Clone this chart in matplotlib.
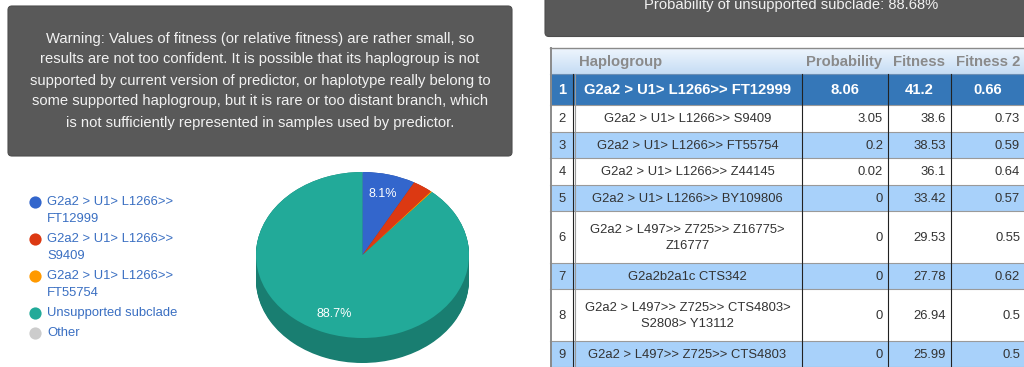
import textwrap
import numpy as np
import matplotlib
matplotlib.use("Agg")
import matplotlib.pyplot as plt
from matplotlib.patches import FancyBboxPatch, Rectangle
from matplotlib.colors import to_rgb

# ---------------- data ----------------
warning_lines = [
    "Warning: Values of fitness (or relative fitness) are rather small, so",
    "results are not too confident. It is possible that its haplogroup is not",
    "supported by current version of predictor, or haplotype really belong to",
    "some supported haplogroup, but it is rare or too distant branch, which",
    "is not sufficiently represented in samples used by predictor.",
]
unsupported_prob = 88.68

pie_labels = ["G2a2 > U1> L1266>> FT12999", "G2a2 > U1> L1266>> S9409",
              "G2a2 > U1> L1266>> FT55754", "Unsupported subclade", "Other"]
pie_values = [8.06, 3.05, 0.2, 88.68, 0.01]
pie_colors = ["#3366cc", "#dc3912", "#ff9900", "#22aa99", "#cccccc"]

headers = ["", "Haplogroup", "Probability", "Fitness", "Fitness 2"]
row_numbers = [1, 2, 3, 4, 5, 6, 7, 8, 9]
haplogroups = [
    "G2a2 > U1> L1266>> FT12999",
    "G2a2 > U1> L1266>> S9409",
    "G2a2 > U1> L1266>> FT55754",
    "G2a2 > U1> L1266>> Z44145",
    "G2a2 > U1> L1266>> BY109806",
    "G2a2 > L497>> Z725>> Z16775> Z16777",
    "G2a2b2a1c CTS342",
    "G2a2 > L497>> Z725>> CTS4803> S2808> Y13112",
    "G2a2 > L497>> Z725>> CTS4803",
]
probability = ["8.06", "3.05", "0.2", "0.02", "0", "0", "0", "0", "0"]
fitness = ["41.2", "38.6", "38.53", "36.1", "33.42", "29.53", "27.78", "26.94", "25.99"]
fitness2 = ["0.66", "0.73", "0.59", "0.64", "0.57", "0.55", "0.62", "0.5", "0.5"]

# ---------------- figure ----------------
W, H = 1024, 367
plt.rcParams["font.family"] = ["Liberation Sans", "DejaVu Sans"]
fig = plt.figure(figsize=(W / 100, H / 100), dpi=100)
fig.patch.set_facecolor("white")
ax = fig.add_axes([0, 0, 1, 1])
ax.set_xlim(0, W)
ax.set_ylim(H, 0)
ax.axis("off")


def px(p):
    return p * 0.72


# warning box
ax.add_patch(FancyBboxPatch((8, 6), 504, 150, boxstyle="round,pad=0,rounding_size=4",
                            fc="#595959", ec="#4d4d4d", lw=0.8))
for i, line in enumerate(warning_lines):
    ax.text(260, 42.5 + i * 21, line, ha="center", va="baseline",
            fontsize=px(14.7), color="#f2f2f2")

# top-right box
ax.add_patch(FancyBboxPatch((545, -20), 520, 56.5, boxstyle="round,pad=0,rounding_size=4",
                            fc="#595959", ec="#4d4d4d", lw=0.8))
ax.text(791, 8.5, f"Probability of unsupported subclade: {unsupported_prob:.2f}%",
        ha="center", va="baseline", fontsize=px(14.7), color="#f2f2f2")

# legend
ly = 202
for lab, col in zip(pie_labels, pie_colors):
    ax.plot([35], [ly], "o", ms=8.8, color=col, mec="none")
    for j, ln in enumerate(textwrap.wrap(lab, 20)):
        ax.text(47, ly + j * 17, ln, ha="left", va="center",
                fontsize=px(13), color="#3a6fc2")
    ly += (len(textwrap.wrap(lab, 20)) - 1) * 17 + 20

# ---------------- table ----------------
col_edges = [550, 573, 802, 888, 951, 1025]
head_top, head_bot = 48, 74
grad = np.linspace(0, 1, 30)[:, None, None]
c_top, c_bot = np.array(to_rgb("#eef5fd")), np.array(to_rgb("#c6ddf4"))
img = c_top * (1 - grad) + c_bot * grad
ax.imshow(np.repeat(img, 2, axis=1), extent=(550, 1030, head_bot, head_top),
          aspect="auto", interpolation="bilinear", zorder=1)
hx = [None, 579, 882, 945, 1020]
for k in range(1, 5):
    ax.text(hx[k], (head_top + head_bot) / 2 + 1, headers[k],
            ha="left" if k == 1 else "right", va="center",
            fontsize=px(14.9), fontweight="bold", color="#8a8a8a", zorder=3)

y = head_bot
row_bounds = []
for i in range(len(row_numbers)):
    lines = textwrap.wrap(haplogroups[i], 29)
    h = 31 if i == 0 else (26.5 if len(lines) == 1 else 51.5)
    row_bounds.append((y, y + h, lines))
    y += h

for i, (y0, y1, lines) in enumerate(row_bounds):
    if i == 0:
        bg = "#3577b8"
    elif i % 2 == 0:
        bg = "#a8d1fa"
    else:
        bg = "white"
    ax.add_patch(Rectangle((550, y0), 480, y1 - y0, fc=bg, ec="none", zorder=1))
    yc = (y0 + y1) / 2
    if i == 0:
        kw = dict(fontsize=px(14.9), fontweight="bold", color="white", zorder=3)
        ax.text(562, yc + 1, str(row_numbers[i]), ha="center", va="center", **kw)
        ax.text((col_edges[1] + col_edges[2]) / 2, yc + 1, haplogroups[i], ha="center", va="center", **kw)
        for k, v in zip(range(2, 5), (probability[i], fitness[i], fitness2[i])):
            ax.text((col_edges[k] + col_edges[k + 1]) / 2, yc + 1, v, ha="center", va="center", **kw)
    else:
        kw = dict(fontsize=px(13), color="#333333", zorder=3)
        ax.text(562, yc + 1, str(row_numbers[i]), ha="center", va="center", **kw)
        nl = len(lines)
        for j, ln in enumerate(lines):
            ax.text((col_edges[1] + col_edges[2]) / 2, yc + 1 + (j - (nl - 1) / 2) * 16, ln,
                    ha="center", va="center", **kw)
        for k, v in zip(range(2, 5), (probability[i], fitness[i], fitness2[i])):
            ax.text(col_edges[k + 1] - 5, yc + 1, v, ha="right", va="center", **kw)
    ax.plot([550, 1030], [y1, y1], color="#9a9a9a", lw=0.8, zorder=2)

ax.plot([550, 1030], [head_top, head_top], color="#8a8a8a", lw=1.0, zorder=2)
ax.plot([550, 1030], [head_bot, head_bot], color="#6c8fb5", lw=0.8, zorder=2)
ax.plot([550.5, 550.5], [head_top, H + 5], color="#8a8a8a", lw=1.4, zorder=2)
for xe in col_edges[1:5]:
    ax.plot([xe, xe], [head_bot, H + 5], color="#222222", lw=0.8, zorder=2)
ax.plot([574.5, 574.5], [head_bot, H + 5], color="#9a9a9a", lw=0.8, zorder=2)

ax.set_xlim(0, W)
ax.set_ylim(H, 0)

# ---------------- 3D-looking pie ----------------
cx, cy, rx, ry, depth_px = 362.5, 255, 106.5, 83, 25
xl, yl = (-1.3, 1.3), (-1.6, 1.3)
left_px = cx + xl[0] * rx
top_px = cy - yl[1] * ry
wpx = (xl[1] - xl[0]) * rx
hpx = (yl[1] - yl[0]) * ry
pax = fig.add_axes([left_px / W, (H - (top_px + hpx)) / H, wpx / W, hpx / H])
dark = [tuple(np.array(to_rgb(c)) * 0.74) for c in pie_colors]
d = depth_px / ry
for off in np.linspace(d, 0, 30):
    pax.pie(pie_values, colors=dark, startangle=90, counterclock=False,
            center=(0, -off), wedgeprops=dict(linewidth=0))
pax.pie(pie_values, colors=pie_colors, startangle=90, counterclock=False,
        wedgeprops=dict(linewidth=0), pctdistance=0.76,
        autopct=lambda p: f"{p:.1f}%" if p > 5 else "",
        textprops=dict(color="white", fontsize=px(12.5)))
pax.set_aspect("auto")
pax.set_xlim(*xl)
pax.set_ylim(*yl)
pax.axis("off")

fig.savefig("out.png", dpi=100, facecolor="white")
